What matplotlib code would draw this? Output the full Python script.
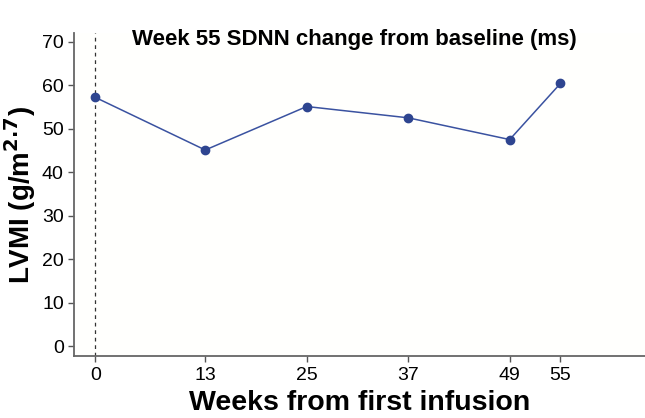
import numpy as np
import matplotlib.pyplot as plt

# weeks from first infusion and LVMI values
weeks = [0, 13, 25, 37, 49, 55]
lvmi = [57.2, 45.1, 55.1, 52.5, 47.5, 60.4]
yticks = [0, 10, 20, 30, 40, 50, 60, 70]

plt.rcParams['font.family'] = ['Liberation Sans', 'DejaVu Sans']

fig = plt.figure(figsize=(6.45, 4.18), dpi=100)
fig.patch.set_facecolor('white')
ax = fig.add_axes([0.115, 0.148, 0.885, 0.773])
ax.set_facecolor('#fffffd')

ax.axvline(0, color='#333333', linestyle=(0, (3, 3)), linewidth=0.9, zorder=1)
ax.plot(weeks, lvmi, '-o', color='#3a52a0', markerfacecolor='#2e4590',
        markeredgecolor='#2e4590', markersize=6, linewidth=1.1, zorder=3)

ax.set_xlim(-2.5, 65)
ax.set_ylim(-2.3, 72)
ax.set_xticks(weeks)
ax.set_yticks(yticks)
ax.tick_params(labelsize=14, color='#555555', length=4, width=1)
ax.spines['top'].set_visible(False)
ax.spines['right'].set_visible(False)
for s in ['left', 'bottom']:
    ax.spines[s].set_color('#666666')
    ax.spines[s].set_linewidth(1.3)

ax.set_xlabel('Weeks from first infusion', fontsize=20.5, fontweight='bold', labelpad=5)
ax.set_ylabel('LVMI (g/m$\\mathbf{^{2.7}}$)', fontsize=20, fontweight='bold', labelpad=3)
ax.text(0.49, 0.98, 'Week 55 SDNN change from baseline (ms)', transform=ax.transAxes,
        ha='center', va='center', fontsize=16, fontweight='bold')

plt.savefig('out.png', dpi=100)
